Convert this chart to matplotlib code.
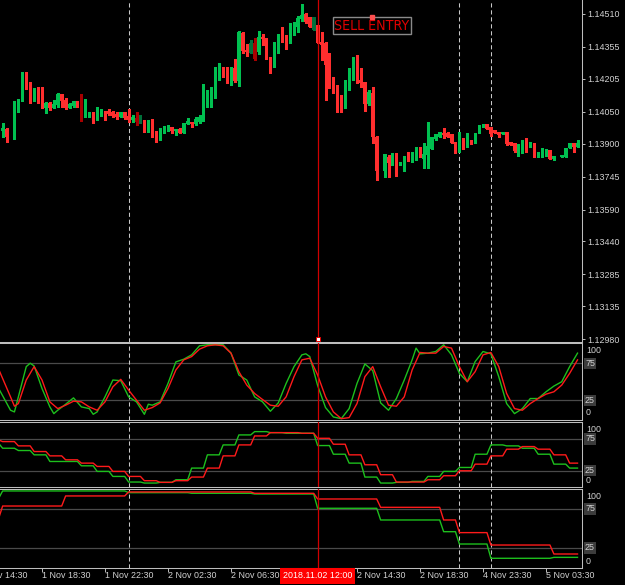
import numpy as np
import matplotlib
matplotlib.use("Agg")
import matplotlib.pyplot as plt

plt.rcParams['font.family'] = ['Liberation Sans', 'DejaVu Sans']

# ---------------- data ----------------
# bar index 0 = 1 Nov 18:30 (M15 bars)
bars = list(range(-11, 137))
ohlc = [
    (1.14049, 1.14058, 1.13945, 1.13955), (1.13961, 1.13998, 1.13933, 1.13972),
    (1.13969, 1.13975, 1.13909, 1.13930), None,
    (1.13925, 1.14102, 1.13920, 1.14077), (1.14069, 1.14108, 1.14050, 1.14108),
    (1.14105, 1.14235, 1.14102, 1.14235), (1.14235, 1.14235, 1.14155, 1.14165),
    (1.14168, 1.14191, 1.14092, 1.14100), (1.14105, 1.14160, 1.14102, 1.14155),
    (1.14155, 1.14168, 1.14090, 1.14092),
    (1.14097, 1.14165, 1.14066, 1.14069), (1.14069, 1.14094, 1.14042, 1.14090),
    (1.14090, 1.14097, 1.14058, 1.14066), (1.14066, 1.14105, 1.14066, 1.14086),
    (1.14082, 1.14136, 1.14074, 1.14132), (1.14132, 1.14132, 1.14074, 1.14102),
    (1.14105, 1.14116, 1.14061, 1.14066), (1.14069, 1.14090, 1.14066, 1.14085),
    (1.14078, 1.14100, 1.14074, 1.14100), (1.14100, 1.14100, 1.14074, 1.14078),
    (1.14082, 1.14133, 1.14008, 1.14035), (1.14035, 1.14108, 1.14024, 1.14058),
    (1.14024, 1.14050, 1.14024, 1.14042), (1.14050, 1.14050, 1.13998, 1.14014),
    (1.14011, 1.14074, 1.14011, 1.14050), (1.14042, 1.14063, 1.14030, 1.14058),
    (1.14053, 1.14053, 1.14011, 1.14049), (1.14055, 1.14061, 1.14035, 1.14039),
    (1.14047, 1.14053, 1.14027, 1.14031), (1.14038, 1.14047, 1.14016, 1.14027),
    (1.14027, 1.14050, 1.14024, 1.14050), (1.14047, 1.14050, 1.14014, 1.14019),
    (1.14031, 1.14063, 1.14003, 1.14011), (1.14011, 1.14035, 1.14003, 1.14027),
    (1.14022, 1.14050, 1.13988, 1.14000), (1.13995, 1.14035, 1.13995, 1.14014),
    (1.14011, 1.14011, 1.13953, 1.13953), (1.13961, 1.14011, 1.13956, 1.14003),
    (1.14003, 1.14014, 1.13930, 1.13940), (1.13948, 1.13961, 1.13906, 1.13925),
    (1.13930, 1.13972, 1.13917, 1.13961), (1.13961, 1.13983, 1.13951, 1.13972),
    (1.13964, 1.13988, 1.13961, 1.13984), (1.13980, 1.13980, 1.13951, 1.13961),
    (1.13961, 1.13969, 1.13940, 1.13969), (1.13969, 1.13972, 1.13948, 1.13951),
    (1.13951, 1.13998, 1.13948, 1.13998), (1.13992, 1.14022, 1.13992, 1.14006),
    (1.14003, 1.14003, 1.13980, 1.13992), (1.13992, 1.14024, 1.13988, 1.14014),
    (1.14003, 1.14035, 1.13995, 1.14024), (1.14008, 1.14180, 1.14008, 1.14086),
    (1.14077, 1.14152, 1.14074, 1.14105), (1.14102, 1.14168, 1.14074, 1.14124),
    (1.14120, 1.14262, 1.14113, 1.14227), (1.14223, 1.14280, 1.14199, 1.14243),
    (1.14243, 1.14262, 1.14215, 1.14227), (1.14230, 1.14262, 1.14183, 1.14186),
    (1.14186, 1.14262, 1.14176, 1.14257), (1.14257, 1.14296, 1.14191, 1.14196),
    (1.14196, 1.14429, 1.14171, 1.14423), (1.14418, 1.14423, 1.14325, 1.14337),
    (1.14340, 1.14368, 1.14312, 1.14329), (1.14327, 1.14387, 1.14325, 1.14374),
    (1.14374, 1.14395, 1.14293, 1.14296), (1.14329, 1.14431, 1.14321, 1.14403),
    (1.14403, 1.14414, 1.14364, 1.14390), (1.14395, 1.14395, 1.14296, 1.14301),
    (1.14301, 1.14306, 1.14233, 1.14273), (1.14270, 1.14376, 1.14262, 1.14337),
    (1.14329, 1.14414, 1.14325, 1.14390), (1.14398, 1.14447, 1.14379, 1.14379),
    (1.14384, 1.14411, 1.14345, 1.14374), (1.14374, 1.14468, 1.14371, 1.14426),
    (1.14423, 1.14473, 1.14411, 1.14450), (1.14447, 1.14500, 1.14426, 1.14492),
    (1.14486, 1.14556, 1.14478, 1.14505), (1.14508, 1.14512, 1.14468, 1.14473),
    (1.14494, 1.14497, 1.14447, 1.14450), (1.14434, 1.14497, 1.14434, 1.14497),
    (1.14458, 1.14458, 1.14371, 1.14371), (1.14376, 1.14426, 1.14293, 1.14364),
    (1.14371, 1.14379, 1.14105, 1.14270), (1.14273, 1.14325, 1.14161, 1.14168),
    (1.14176, 1.14215, 1.14136, 1.14165), (1.14171, 1.14176, 1.14050, 1.14077),
    (1.14086, 1.14129, 1.14050, 1.14066), (1.14066, 1.14199, 1.14066, 1.14176),
    (1.14171, 1.14254, 1.14152, 1.14249), (1.14243, 1.14306, 1.14199, 1.14278),
    (1.14278, 1.14317, 1.14183, 1.14186), (1.14199, 1.14254, 1.14168, 1.14186),
    (1.14191, 1.14191, 1.14055, 1.14086), (1.14086, 1.14152, 1.14082, 1.14144),
    (1.14136, 1.14165, 1.13904, 1.13930), (1.13933, 1.13936, 1.13729, 1.13773),
    None,
    (1.13773, 1.13851, 1.13742, 1.13851), (1.13836, 1.13847, 1.13745, 1.13807),
    (1.13804, 1.13855, 1.13801, 1.13855), (1.13857, 1.13857, 1.13748, 1.13804),
    (1.13804, 1.13815, 1.13801, 1.13815), (1.13812, 1.13842, 1.13773, 1.13828),
    (1.13862, 1.13862, 1.13818, 1.13820), (1.13820, 1.13862, 1.13815, 1.13857),
    (1.13826, 1.13886, 1.13823, 1.13886), (1.13886, 1.13886, 1.13837, 1.13839),
    (1.13826, 1.13902, 1.13784, 1.13851), (1.13847, 1.14003, 1.13784, 1.13889),
    (1.13873, 1.13933, 1.13873, 1.13933), (1.13920, 1.13945, 1.13917, 1.13945),
    (1.13933, 1.13956, 1.13933, 1.13956), (1.13951, 1.13972, 1.13925, 1.13940),
    (1.13948, 1.13956, 1.13930, 1.13930), (1.13945, 1.13945, 1.13902, 1.13902),
    (1.13909, 1.13909, 1.13856, 1.13862), (1.13867, 1.13956, 1.13862, 1.13912),
    (1.13917, 1.13925, 1.13873, 1.13886), (1.13886, 1.13950, 1.13884, 1.13917),
    (1.13917, 1.13917, 1.13898, 1.13898), (1.13904, 1.13951, 1.13903, 1.13951),
    (1.13948, 1.13988, 1.13948, 1.13988), (1.13977, 1.13992, 1.13977, 1.13992),
    (1.13992, 1.13992, 1.13969, 1.13969), (1.13977, 1.13977, 1.13937, 1.13945),
    (1.13964, 1.13964, 1.13950, 1.13951), (1.13956, 1.13956, 1.13930, 1.13940),
    (1.13945, 1.13956, 1.13945, 1.13956), (1.13956, 1.13956, 1.13894, 1.13898),
    (1.13909, 1.13909, 1.13894, 1.13894), (1.13902, 1.13902, 1.13862, 1.13867),
    (1.13873, 1.13897, 1.13842, 1.13897), (1.13889, 1.13917, 1.13855, 1.13909),
    (1.13904, 1.13925, 1.13862, 1.13886), (1.13886, 1.13909, 1.13886, 1.13909),
    (1.13904, 1.13904, 1.13836, 1.13836), (1.13836, 1.13862, 1.13836, 1.13862),
    (1.13839, 1.13878, 1.13839, 1.13878), (1.13842, 1.13873, 1.13842, 1.13873),
    (1.13870, 1.13870, 1.13826, 1.13826), (1.13828, 1.13843, 1.13824, 1.13843),
    None,
    (1.13839, 1.13847, 1.13839, 1.13847), (1.13839, 1.13878, 1.13836, 1.13878),
    (1.13878, 1.13904, 1.13878, 1.13904), (1.13904, 1.13904, 1.13862, 1.13883),
    (1.13883, 1.13917, 1.13883, 1.13904),
]
dark_bars = [10, 24, 25, 53, 54, 69]

price_ticks = [1.14510, 1.14355, 1.14205, 1.14050, 1.13900, 1.13745,
               1.13590, 1.13440, 1.13285, 1.13135, 1.12980]

# Stochastic (M15) knots
st_red_i = [-11, -8, -7, -6] + list(range(-4, 137, 2))
st_red_v = [66.9, 29.7, 17.0, 20.6, 52.4, 70.5, 52.4, 22.9, 13.8, 18.4, 23.8, 22.9,
            16.1, 11.6, 22.9, 43.3, 53.3, 38.8, 25.2, 11.6, 15.2, 21.5, 41.0, 66.0,
            79.6, 84.1, 94.1, 98.6, 100, 98.6, 88.7, 63.7, 45.6, 34.2, 26.1, 18.4,
            17.0, 29.7, 56.9, 79.6, 81.9, 59.2, 29.7, 9.3, 0.2, 1.6, 20.6, 56.9,
            70.5, 43.3, 18.4, 17.0, 29.7, 66.0, 89.6, 88.7, 88.7, 97.7, 95.5, 70.5,
            50.1, 63.7, 86.4, 89.6, 70.5, 34.2, 13.8, 11.6, 20.6, 27.4, 33.3, 36.5,
            45.6, 61.4, 79.6]
st_grn_i = ([-11, -8, -7, -6, -4, -3, -2, 0, 2, 3, 4, 6, 8, 10, 12, 13, 14, 16, 18,
             20, 22, 24, 26, 27, 28] + list(range(30, 67, 2)) + [67]
            + list(range(68, 95, 2)) + [95] + list(range(96, 137, 2)))
st_grn_v = [41.0, 11.6, 9.3, 29.7, 70.5, 75.1, 71.4, 41.0, 16.1, 7.0, 11.6, 19.7,
            28.3, 16.1, 13.8, 6.1, 9.3, 29.7, 52.4, 51.5, 29.7, 22.9, 6.1, 19.7, 18.4,
            22.9, 47.8, 76.9, 80.5, 86.4, 98.6, 100, 100, 100, 88.7, 59.2, 52.4, 29.7,
            22.9, 10.2, 21.5, 47.8, 70.5, 86.4, 87.8,
            84.1, 45.0, 15.2, 2.5, 0.2, 13.8, 47.8, 74.1, 65.1, 21.5, 11.6, 27.4, 52.4,
            79.6, 95.5,
            87.8, 88.7, 90.9, 100, 86.4, 61.4, 50.1, 77.3, 90.9, 87.8, 56.9, 20.6, 7.0,
            13.8, 27.4, 27.4, 36.5, 44.2, 50.1, 70.5, 88.7]

# Stochastic H1 (block start bar, value)
h1_start = list(range(-14, 137, 4))
h1_red = [73.4, 70.8, 64.1, 55.2, 48.4, 42.2, 37.0, 31.8, 24.0, 16.1, 9.4, 6.8, 9.4,
          15.1, 29.2, 48.4, 65.6, 79.7, 84.9, 84.9, 83.9, 76.0, 66.7, 50.0, 34.4,
          18.8, 7.3, 7.3, 10.9, 17.2, 25.0, 35.4, 48.4, 58.9, 63.0, 58.9, 50.0, 37.0]
h1_grn = [68.0, 60.4, 56.8, 50.0, 39.6, 39.6, 32.8, 24.0, 16.1, 7.3, 5.7, 6.8, 10.9,
          29.2, 50.0, 65.6, 81.3, 86.5, 84.9, 83.9, 83.9, 64.6, 51.0, 37.0, 15.1,
          5.7, 6.8, 8.3, 16.1, 24.0, 30.2, 51.0, 65.6, 64.1, 60.4, 51.0, 35.4, 29.2]

# Stochastic H4
h4_start = [-26, -10, 6, 22, 38, 54, 70, 86, 102, 106, 114, 130]
h4_red = [63.0, 78.8, 91.7, 96.8, 96.8, 95.1, 87.8, 77.1, 60.9, 44.7, 28.8, 17.3]
h4_grn = [88.7, 98.1, 98.1, 95.9, 95.1, 94.2, 75.9, 60.9, 45.9, 30.1, 11.8, 13.0]

separator_bars = [22, 106, 114]
entry_bar = 70
entry_label = "2018.11.02 12:00"
time_tick_bars = [-16, 0, 16, 32, 48, 64, 80, 96, 112, 128]
time_tick_labels = ["1 Nov 14:30", "1 Nov 18:30", "1 Nov 22:30", "2 Nov 02:30",
                    "2 Nov 06:30", "2 Nov 10:30", "2 Nov 14:30", "2 Nov 18:30",
                    "4 Nov 23:30", "5 Nov 03:30"]
levels = [75, 25]

# ---------------- style ----------------
W, H = 625, 585
BG = "black"
FG = "#d2d2d2"
SP = "#bdbdbd"
GRN, RED = "#00c050", "#ff2e2e"
DGRN, DRED = "#00703a", "#a80000"
LGRN, LRED = "#1dbf1d", "#ff1a1a"
LVL = "#4a4a4a"
FS = 6.4

fig = plt.figure(figsize=(W / 100, H / 100), dpi=100, facecolor=BG)


def axes_px(top, bottom, right=582):
    ax = fig.add_axes([0, 1 - bottom / H, right / W, (bottom - top) / H])
    ax.set_facecolor(BG)
    for s in ax.spines.values():
        s.set_color(SP)
        s.set_linewidth(0.75)
    ax.spines['left'].set_visible(False)
    ax.set_xlim(-10.667, 137.14)
    ax.tick_params(axis='x', which='both', bottom=False, labelbottom=False)
    ax.yaxis.tick_right()
    ax.tick_params(axis='y', direction='out', length=2.2, width=0.7, colors=SP,
                   labelcolor=FG, labelsize=FS, pad=1.5)
    return ax


ax0 = axes_px(0, 341.7)
ax0.spines['top'].set_visible(False)
ax1 = axes_px(343.3, 420)
ax2 = axes_px(422, 487)
ax3 = axes_px(489, 567.5)

# ---- candles ----
x = np.array(bars, dtype=float)
o = np.array([np.nan if r is None else r[0] for r in ohlc])
h = np.array([np.nan if r is None else r[1] for r in ohlc])
l = np.array([np.nan if r is None else r[2] for r in ohlc])
c = np.array([np.nan if r is None else r[3] for r in ohlc])
ok = ~np.isnan(o)
cols = []
for b, oo, cc in zip(bars, o, c):
    up = cc >= oo
    if b in dark_bars:
        cols.append(DGRN if up else DRED)
    else:
        cols.append(GRN if up else RED)
cols = np.array(cols)
ymin, ymax = 1.12969, 1.14575
ax0.set_ylim(ymin, ymax)
px = (ymax - ymin) / 341.7
ax0.vlines(x[ok], l[ok], h[ok], colors=cols[ok], linewidth=0.8, antialiased=False, zorder=3)
ax0.bar(x[ok], np.maximum(np.abs(c[ok] - o[ok]), px), bottom=np.minimum(o[ok], c[ok]),
        width=0.74, color=cols[ok], linewidth=0, antialiased=False, zorder=4)
ax0.set_yticks(price_ticks)
ax0.set_yticklabels([f"{v:.5f}" for v in price_ticks])

# ---- indicator panels ----
bx = np.arange(-11, 137)


def blocks(starts, vals):
    idx = np.searchsorted(np.array(starts), bx, side='right') - 1
    return np.array(vals)[idx]


ax1.set_ylim(-1.6, 102)
ax2.set_ylim(-0.5, 101.6)
ax3.set_ylim(0, 100.6)
for ax in (ax1, ax2, ax3):
    for lv in levels:
        ax.axhline(lv, color=LVL, lw=0.9, zorder=1)
    ax.set_yticks([])

ax1.plot(st_grn_i, st_grn_v, color=LGRN, lw=1.0, zorder=3)
ax1.plot(st_red_i, st_red_v, color=LRED, lw=1.0, zorder=4)
ax2.plot(bx, blocks(h1_start, h1_grn), color=LGRN, lw=1.0, zorder=3)
ax2.plot(bx, blocks(h1_start, h1_red), color=LRED, lw=1.0, zorder=4)
ax3.plot(bx, blocks(h4_start, h4_grn), color=LGRN, lw=1.0, zorder=3)
ax3.plot(bx, blocks(h4_start, h4_red), color=LRED, lw=1.0, zorder=4)

for ax, d_top, d_bot in ((ax1, -6, 6), (ax2, -6, 6), (ax3, -7, 6)):
    ax.annotate("100", xy=(1, 100), xycoords=('axes fraction', 'data'),
                xytext=(4, d_top), textcoords='offset pixels', va='center', ha='left',
                color=FG, fontsize=FS, annotation_clip=False)
    ax.annotate("0", xy=(1, 0), xycoords=('axes fraction', 'data'),
                xytext=(4, d_bot), textcoords='offset pixels', va='center', ha='left',
                color=FG, fontsize=FS, annotation_clip=False)
    for lv in levels:
        ax.annotate(str(lv), xy=(1, lv), xycoords=('axes fraction', 'data'),
                    xytext=(3, 0), textcoords='offset pixels', va='center', ha='left',
                    color=FG, fontsize=FS, annotation_clip=False,
                    bbox=dict(boxstyle='square,pad=0.12', fc='#3c3c3c', ec='none'))

# ---- vertical lines ----
for ax in (ax0, ax1, ax2, ax3):
    for sb in separator_bars:
        ax.axvline(sb, color='#c8c8c8', lw=0.75, ls=(0, (4, 2.7)), zorder=2)
    ax.axvline(entry_bar, color='#d00000', lw=0.9, zorder=6)

# ---- time axis ----
ax3.set_xticks([t for t in time_tick_bars if t >= -10])
ax3.tick_params(axis='x', which='both', bottom=True, direction='out', length=3,
                width=0.7, color=SP, labelbottom=False)
for tb, tl in zip(time_tick_bars, time_tick_labels):
    if abs(tb - entry_bar) < 10:
        continue  # hidden under the entry time label
    ax3.annotate(tl, xy=(tb, 0), xycoords=('data', 'axes fraction'), xytext=(0, -4),
                 textcoords='offset pixels', ha='left', va='top', color=FG,
                 fontsize=FS, annotation_clip=False)
ax3.annotate(entry_label, xy=(entry_bar, 0), xycoords=('data', 'axes fraction'),
             xytext=(0, -4), textcoords='offset pixels', ha='center', va='top',
             color='white', fontsize=FS, annotation_clip=False, zorder=10,
             bbox=dict(boxstyle='square,pad=0.35', fc='#ff0000', ec='none'))

# ---- SELL ENTRY label ----
ax0.text(83.8, 1.14455, "SELL ENTRY", color='#e00000', fontsize=10.2,
         family=['DejaVu Sans'], fontstretch='condensed', ha='center', va='center',
         zorder=8, bbox=dict(boxstyle='square,pad=0.1', fc='black', ec='#8a8a8a', lw=1.0))
ax0.plot([83.7], [1.14497], marker='s', ms=2.2, color='#ff5050', mec='#ff5050', zorder=9)
ax0.plot([entry_bar], [1.12982], marker='s', ms=3.2, mfc='white', mec='#e00000',
         mew=0.7, zorder=9, clip_on=False)

fig.savefig("out.png", dpi=100, facecolor=BG)
